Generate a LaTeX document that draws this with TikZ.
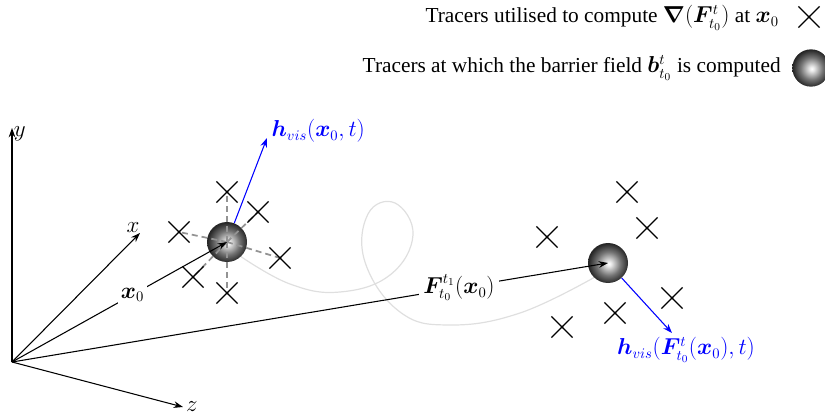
\documentclass[tikz,border=0pt]{standalone}
\usepackage{amsmath,bm}
\usepackage{fontspec}
\setmainfont{Liberation Serif}
\usetikzlibrary{arrows.meta,shapes.misc}
\pgfdeclareradialshading{tracerball}{\pgfpoint{1bp}{-1bp}}{color(0bp)=(white); color(3bp)=(white!92!black); color(15bp)=(black!55); color(25bp)=(black!85); color(50bp)=(black!85)}
\tikzset{
  ball/.style={circle, shading=tracerball, minimum size=30pt, inner sep=0pt},
  tracer/.style={cross out, draw, line width=0.9pt, minimum size=15pt, inner sep=0pt},
  axis/.style={-{Stealth[length=7pt,width=5pt]}, line width=0.8pt},
  vec/.style={-{Stealth[length=7pt,width=5pt]}, line width=0.8pt},
  hvec/.style={vec, blue},
  guide/.style={gray!85, line width=1.3pt, dash pattern=on 4.5pt off 3pt},
  trail/.style={gray!25, line width=0.9pt}
}

\begin{document}
\begin{tikzpicture}[x=0.75pt, y=-0.75pt, font=\fontsize{16}{19}\selectfont]
\useasboundingbox (0,0) rectangle (825,417);
% legend
\node[anchor=base east, inner sep=0pt] (leg1) at (779,23) {Tracers utilised to compute $\bm{\nabla}(\bm{F}^{t}_{t_0})$ at $\bm{x}_0$};
\node[tracer] (legc) at (809,17) {};
\fill (legc) circle (1.5);
\node[anchor=base east, inner sep=0pt] (leg2) at (781,73) {Tracers at which the barrier field $\bm{b}^{t}_{t_0}$ is computed};
\node[ball, minimum size=28pt] (legb) at (811,68) {};

% trajectory
\draw[trail] plot[smooth, tension=0.7] coordinates {(240,256) (290,284) (340,292) (390,275) (413,235) (395,203) (368,214) (365,262) (400,312) (450,325) (520,313) (595,277)};

% axes
\coordinate (O) at (12,362);
\coordinate (ay) at (12,128);
\coordinate (ax) at (140,233);
\coordinate (az) at (183,407);
\draw[axis] (O) -- (ay) node[right, inner sep=1pt, yshift=-4pt] {$y$};
\draw[axis] (O) -- (ax) node[above left, inner sep=0pt] {$x$};
\draw[axis] (O) -- (az) node[right, inner sep=2pt] {$z$};

% tracers
\node[ball] (b1) at (227,242) {};
\node[ball] (b2) at (608,263) {};
\foreach \n/\p in {1/{227,192}, 2/{258,212}, 3/{179,232}, 4/{280,258}, 5/{193,277}, 6/{227,293}}{
  \draw[guide] (b1.center) -- (\p);
  \node[tracer] (c\n) at (\p) {};
  \fill (c\n) circle (1.5);
}
\foreach \n/\p in {1/{627,192}, 2/{647,228}, 3/{547,237}, 4/{672,298}, 5/{615,313}, 6/{562,327}}{
  \node[tracer] (d\n) at (\p) {};
  \fill (d\n) circle (1.5);
}

% position vectors
\draw[vec] (O) -- node[pos=0.56, fill=white, inner sep=2pt] (x0) {$\bm{x}_0$} (b1.center);
\draw[vec] (O) -- node[pos=0.75, fill=white, inner sep=3pt] (Fx) {$\bm{F}^{t_1}_{t_0}(\bm{x}_0)$} (b2.center);

% visibility vectors
\coordinate (t1) at (267,138);
\coordinate (t2) at (672,333);
\draw[hvec] (b1) -- (t1);
\draw[hvec] (b2) -- (t2);
\node[blue, anchor=west, inner sep=1pt] (h1) at (270,131) {$\bm{h}_{vis}(\bm{x}_0,t)$};
\node[blue] (h2) at (686,350) {$\bm{h}_{vis}(\bm{F}^{t}_{t_0}(\bm{x}_0),t)$};
\end{tikzpicture}
\end{document}
